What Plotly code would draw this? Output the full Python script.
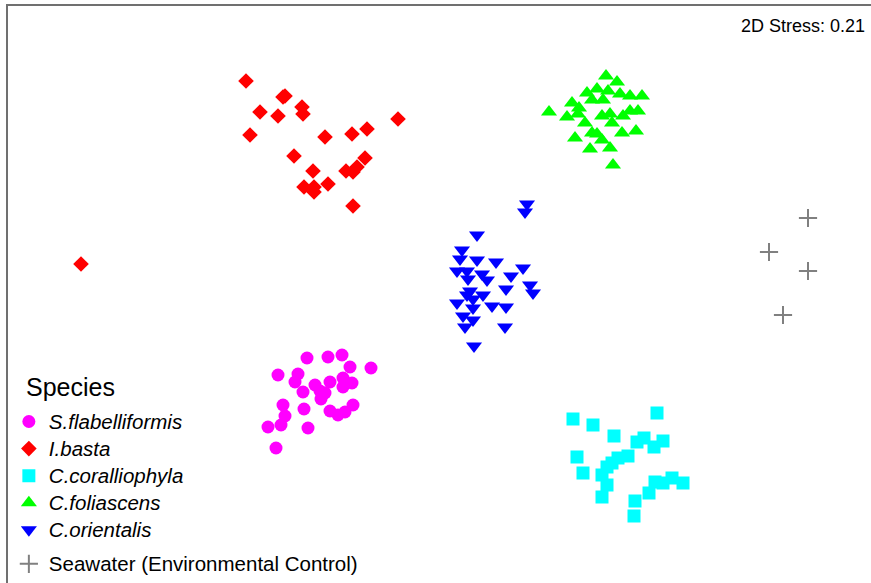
import plotly.graph_objects as go

# NMDS ordination coordinates (axis units; y axis drawn downward)
flab_x = [307, 328, 342, 350, 371, 278, 298, 295, 315, 330, 343, 352, 343, 303, 320, 325, 321, 283, 304, 353, 330, 345, 338, 285, 281, 268, 308, 276]
flab_y = [358, 357, 355, 367, 368, 375, 374, 382, 385, 382, 378, 383, 387, 392, 391, 393, 399, 405, 409, 405, 411, 412, 415, 416, 425, 427, 428, 448]

basta_x = [246, 283, 285, 260, 278, 302, 303, 398, 250, 325, 352, 367, 294, 365, 357, 353, 346, 313, 304, 314, 314, 328, 353, 81]
basta_y = [81, 97, 96, 112, 116, 107, 114, 119, 135, 137, 134, 129, 156, 158, 167, 172, 171, 171, 187, 187, 192, 184, 206, 264]

coral_x = [573, 593, 657, 614, 637, 644, 654, 663, 577, 628, 618, 612, 607, 583, 602, 607, 602, 655, 663, 672, 683, 649, 635, 634]
coral_y = [419, 425, 413, 436, 442, 438, 447, 441, 457, 456, 458, 463, 467, 473, 475, 485, 497, 482, 483, 478, 483, 493, 501, 516]

foli_x = [549, 606, 617, 587, 597, 608, 620, 630, 642, 572, 592, 603, 579, 567, 578, 602, 610, 623, 630, 638, 585, 612, 592, 597, 622, 636, 575, 602, 590, 610, 613]
foli_y = [112, 76, 82, 93, 89, 91, 94, 96, 96, 103, 100, 100, 108, 117, 114, 116, 114, 116, 111, 111, 123, 123, 133, 134, 133, 131, 138, 140, 149, 148, 165]

orient_x = [527, 525, 477, 462, 460, 477, 496, 523, 457, 467, 482, 487, 511, 468, 530, 506, 533, 470, 467, 483, 473, 457, 492, 506, 473, 463, 473, 465, 505, 474]
orient_y = [204, 212, 235, 250, 259, 260, 262, 268, 271, 271, 274, 280, 276, 279, 285, 289, 293, 291, 295, 295, 299, 303, 306, 307, 308, 316, 320, 327, 327, 346]

sea_x = [808, 769, 808, 783]
sea_y = [218, 252, 271, 315]

series = [
    ("S.flabelliformis", flab_x, flab_y, "circle", "#FF00FF", 13, "sp"),
    ("I.basta", basta_x, basta_y, "diamond", "#FF0000", 12, "sp"),
    ("C.coralliophyla", coral_x, coral_y, "square", "#00FFFF", 13, "sp"),
    ("C.foliascens", foli_x, foli_y, "triangle-up", "#00FF00", 14, "sp"),
    ("C.orientalis", orient_x, orient_y, "triangle-down", "#0000FF", 14, "sp"),
]

fig = go.Figure()
for name, xs, ys, sym, col, sz, grp in series:
    fig.add_trace(go.Scatter(
        x=xs, y=ys, mode="markers",
        name="<span style='font-size:20.5px'><i>" + name + "</i></span>",
        legendgroup=grp,
        marker=dict(symbol=sym, color=col, size=sz, line=dict(width=0)),
    ))
fig.add_trace(go.Scatter(
    x=sea_x, y=sea_y, mode="markers",
    name="<span style='font-size:20.5px'>Seawater (Environmental Control)</span>",
    legendgroup="sw",
    marker=dict(symbol="cross-thin", size=13, color="#808080",
                line=dict(width=2, color="#808080")),
))

fig.update_layout(
    width=871, height=583,
    margin=dict(l=8, r=0, t=6, b=0),
    paper_bgcolor="white", plot_bgcolor="white",
    font=dict(family="Arial, Liberation Sans, sans-serif", color="black"),
    xaxis=dict(range=[8, 871], showgrid=False, zeroline=False, showticklabels=False,
               ticks="", showline=True, side="top", linecolor="#707070", linewidth=2,
               mirror=False),
    yaxis=dict(range=[583, 6], showgrid=False, zeroline=False, showticklabels=False,
               ticks="", showline=True, linecolor="#707070", linewidth=2, mirror=False),
    legend=dict(
        x=0.001, y=0.0, xref="paper", yref="paper",
        xanchor="left", yanchor="bottom",
        bgcolor="rgba(0,0,0,0)",
        font=dict(size=18.5, family="Arial, Liberation Sans, sans-serif"),
        traceorder="grouped", tracegroupgap=7,
        itemsizing="trace",
    ),
    showlegend=True,
    annotations=[
        dict(text="2D Stress: 0.21", xref="paper", yref="paper",
             x=1.0, y=1.0, xanchor="right", yanchor="top",
             xshift=-4, yshift=-8, showarrow=False,
             font=dict(size=18, color="black")),
        dict(text="Species", xref="paper", yref="paper",
             x=16 / 863, y=(583 - 387) / 577, xanchor="left", yanchor="middle",
             showarrow=False, font=dict(size=25, color="black")),
    ],
)

fig.write_html("out.html")
